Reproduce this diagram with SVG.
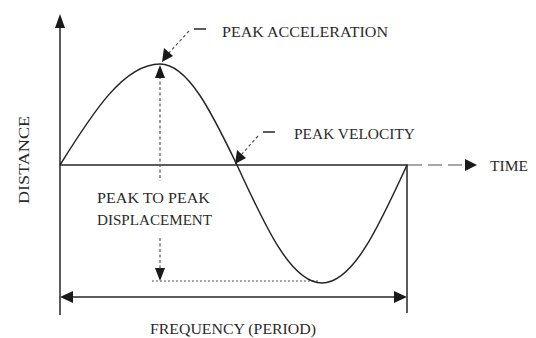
<svg xmlns="http://www.w3.org/2000/svg" width="536" height="338" viewBox="0 0 536 338">
<style>
.ln{stroke:#262626;stroke-width:1.5;fill:none}
.faint{stroke:#8a8a8a;stroke-width:1.3;fill:none}
.dash{stroke:#555;stroke-width:1.2;fill:none;stroke-dasharray:3 2.5}
.dot{stroke:#555;stroke-width:1.2;fill:none;stroke-dasharray:2 2}
.ah{fill:#1a1a1a}
text{font-family:"Liberation Serif","Times New Roman",serif;font-size:15px;fill:#2a2a2a}
</style>
<rect width="536" height="338" fill="#ffffff"/>
<g id="connectors">
  <!-- vertical axis -->
  <line class="ln" x1="60" y1="26" x2="60" y2="315"/>
  <polygon class="ah" points="60,14 55,28 65,28"/>
  <!-- horizontal axis -->
  <line class="ln" x1="60" y1="165" x2="408" y2="165"/>
  <line class="faint" x1="408" y1="165" x2="466" y2="165" stroke-dasharray="14 6"/>
  <polygon class="ah" points="477,165 465,159 465,171"/>
  <!-- right period line -->
  <line class="ln" x1="407" y1="165" x2="407" y2="313" stroke-width="1.2"/>
  <!-- bottom double arrow -->
  <line class="ln" x1="66" y1="297" x2="400" y2="297" stroke-width="2"/>
  <polygon class="ah" points="60,297 73,291 73,303"/>
  <polygon class="ah" points="407,297 394,291 394,303"/>
  <!-- peak to peak dashed -->
  <line class="dash" x1="160" y1="76" x2="160" y2="181"/>
  <line class="dash" x1="160" y1="238" x2="160" y2="270"/>
  <polygon class="ah" points="160,65 155,78 165,78"/>
  <polygon class="ah" points="160,281 155,268 165,268"/>
  <line class="dot" x1="152" y1="281" x2="318" y2="281"/>
  <!-- peak acceleration leader -->
  <line class="ln" x1="194" y1="29" x2="206" y2="29" stroke-width="1.2"/>
  <line class="dash" x1="189" y1="31" x2="168" y2="54"/>
  <polygon class="ah" points="162,62 164,48 173,56"/>
  <!-- peak velocity leader -->
  <line class="ln" x1="263" y1="132" x2="275" y2="132" stroke-width="1.2"/>
  <line class="dash" x1="258" y1="136" x2="242" y2="154"/>
  <polygon class="ah" points="235,164 237,150 246,158"/>
</g>
<g id="wave">
  <path class="ln" d="M60,165 C93,112 124,64 160,64 C188,64 212,113 237,165 C265,226 291,283 322,283 C353,283 379,226 407,165"/>
</g>
<g id="label-distance">
  <text x="0" y="0" transform="translate(29,160) rotate(-90)" text-anchor="middle" textLength="88" lengthAdjust="spacingAndGlyphs" font-size="14">DISTANCE</text>
</g>
<g id="label-time">
  <text x="490" y="171" textLength="38" lengthAdjust="spacingAndGlyphs" font-size="14">TIME</text>
</g>
<g id="label-accel">
  <text x="222" y="37" textLength="166" lengthAdjust="spacingAndGlyphs">PEAK ACCELERATION</text>
</g>
<g id="label-velocity">
  <text x="294" y="139" textLength="121" lengthAdjust="spacingAndGlyphs">PEAK VELOCITY</text>
</g>
<g id="label-p2p">
  <text x="97" y="203" textLength="113" lengthAdjust="spacingAndGlyphs">PEAK TO PEAK</text>
  <text x="97" y="225" textLength="115" lengthAdjust="spacingAndGlyphs">DISPLACEMENT</text>
</g>
<g id="label-frequency">
  <text x="150" y="334" textLength="166" lengthAdjust="spacingAndGlyphs">FREQUENCY (PERIOD)</text>
</g>
</svg>
